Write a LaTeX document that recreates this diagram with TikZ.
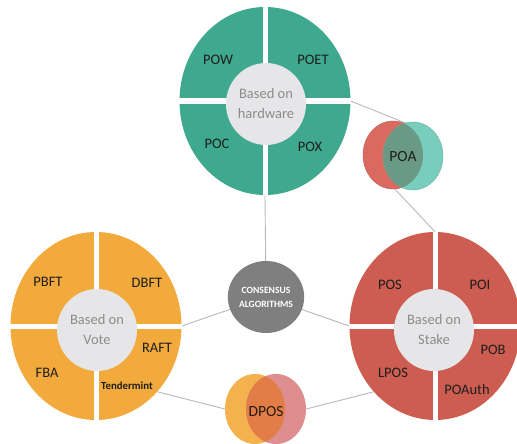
\documentclass[tikz,border=0pt]{standalone}
\usepackage{fontspec}
\setmainfont{Carlito}
\usetikzlibrary{shapes.geometric}
\definecolor{tealc}{HTML}{3EA98E}
\definecolor{orangec}{HTML}{F2AA3C}
\definecolor{redc}{HTML}{CD5D51}
\definecolor{innergray}{HTML}{E6E6E8}
\definecolor{innertext}{HTML}{8C8C8C}
\definecolor{cgray}{HTML}{7F7F7F}
\definecolor{linegray}{HTML}{B8B8B8}
\definecolor{poared}{HTML}{DA6A60}
\definecolor{poateal}{HTML}{78CDBC}
\definecolor{poamix}{HTML}{6A9A85}
\definecolor{dpor}{HTML}{F4B24F}
\definecolor{dpink}{HTML}{DE8E8E}
\definecolor{dpmix}{HTML}{E27D48}
\definecolor{labtext}{HTML}{1E1E1E}
\begin{document}
\begin{tikzpicture}[x=1pt,y=-1pt,
  big/.style={ellipse, inner sep=0pt, minimum width=171pt, minimum height=188pt},
  innerc/.style={ellipse, inner sep=0pt, minimum width=80pt, minimum height=82pt, fill=innergray,
     text=innertext, align=center, font=\fontsize{14.5}{20}\selectfont},
  small/.style={ellipse, inner sep=0pt, minimum width=60pt, minimum height=68pt},
  gap/.style={draw=white, line width=5pt},
  conn/.style={draw=linegray, line width=0.9pt},
  lab/.style={inner sep=0pt, text=labtext, font=\fontsize{14.5}{14.5}\selectfont},
  tlab/.style={inner sep=0pt, text=labtext, font=\bfseries\fontsize{10.8}{10.8}\selectfont}
]
\useasboundingbox (0,0) rectangle (517,444);

% connector end points
\coordinate (poatop) at (408,124);
\coordinate (poabot) at (393,187);

% big circles (nodes first for anchors)
\node[big] (hw) at (265,101) {};
\node[big] (vote) at (96,326) {};
\node[big] (stake) at (435,326) {};
\node[ellipse, inner sep=0pt, minimum width=64pt, minimum height=72pt] (cons) at (266,297) {};
\node[small, minimum height=70pt] (dpL) at (255,409) {};
\node[small, minimum height=70pt] (dpR) at (276,409) {};

% connectors (behind)
\draw[conn] (cons.center) -- (hw.south);
\draw[conn] (cons.center) -- (vote.east);
\draw[conn] (cons.center) -- (stake.west);
\draw[conn] (hw.east) -- (poatop);
\draw[conn] (poabot) -- (stake.north);
\draw[conn] (vote.-47) -- (dpL.west);
\draw[conn] (dpR.east) -- (stake.-133);

% top circle
\fill[tealc] (hw.center) ellipse [x radius=85.5, y radius=94];
\draw[gap] (hw.north) -- (hw.south);
\draw[gap] (hw.west) -- (hw.east);
\node[innerc] (hwin) at (266,104) {Based on\\hardware};

% left circle
\fill[orangec] (vote.center) ellipse [x radius=85.5, y radius=94];
\draw[gap] (vote.north) -- (vote.south);
\draw[gap] (vote.west) -- (vote.east);
\node[innerc] (votein) at (97,330) {Based on\\Vote};

% right circle
\fill[redc] (stake.center) ellipse [x radius=85.5, y radius=94];
\draw[gap] (stake.north) -- (stake.south);
\draw[gap] (stake.west) -- (stake.east);
\node[innerc] (stakein) at (434,330) {Based on\\Stake};

% centre
\node[ellipse, inner sep=0pt, minimum width=64pt, minimum height=72pt, fill=cgray,
  text=white, align=center, font=\bfseries\fontsize{9.6}{14}\selectfont] (consT) at (266,297) {CONSENSUS\\ALGORITHMS};

% POA
\node[small, fill=poared, draw=poared!85!black, line width=0.4pt] (poaR) at (393,155) {};
\node[small, fill=poateal, draw=poateal!85!black, line width=0.4pt] (poaT) at (413,156) {};
\begin{scope}
  \clip (393,155) ellipse [x radius=30, y radius=34];
  \fill[poamix] (413,156) ellipse [x radius=30, y radius=34];
\end{scope}
\node[lab, font=\fontsize{15.5}{15.5}\selectfont] (poa) at (403,157) {POA};

% DPOS
\fill[dpor] (dpL.center) ellipse [x radius=30, y radius=35];
\fill[dpink] (dpR.center) ellipse [x radius=30, y radius=35];
\begin{scope}
  \clip (dpL.center) ellipse [x radius=30, y radius=35];
  \fill[dpmix] (dpR.center) ellipse [x radius=30, y radius=35];
\end{scope}
\node[lab, text=black!80!brown, font=\fontsize{15.5}{15.5}\selectfont] (dpos) at (266,412) {DPOS};

% labels top
\node[lab] (pow) at (218,60) {POW};
\node[lab] (poet) at (313,60) {POET};
\node[lab] (poc) at (217,144) {POC};
\node[lab] (pox) at (310,147) {POX};
% labels left
\node[lab] (pbft) at (48,282) {PBFT};
\node[lab] (dbft) at (147,283) {DBFT};
\node[lab] (raft) at (157,348) {RAFT};
\node[lab] (fba) at (47,373) {FBA};
\node[tlab] (tm) at (127,386) {Tendermint};
% labels right
\node[lab] (pos) at (390,285) {POS};
\node[lab] (poi) at (480,285) {POI};
\node[lab] (pob) at (493,350) {POB};
\node[lab] (lpos) at (393,373) {LPOS};
\node[lab] (poauth) at (467,390) {POAuth};
\end{tikzpicture}
\end{document}
